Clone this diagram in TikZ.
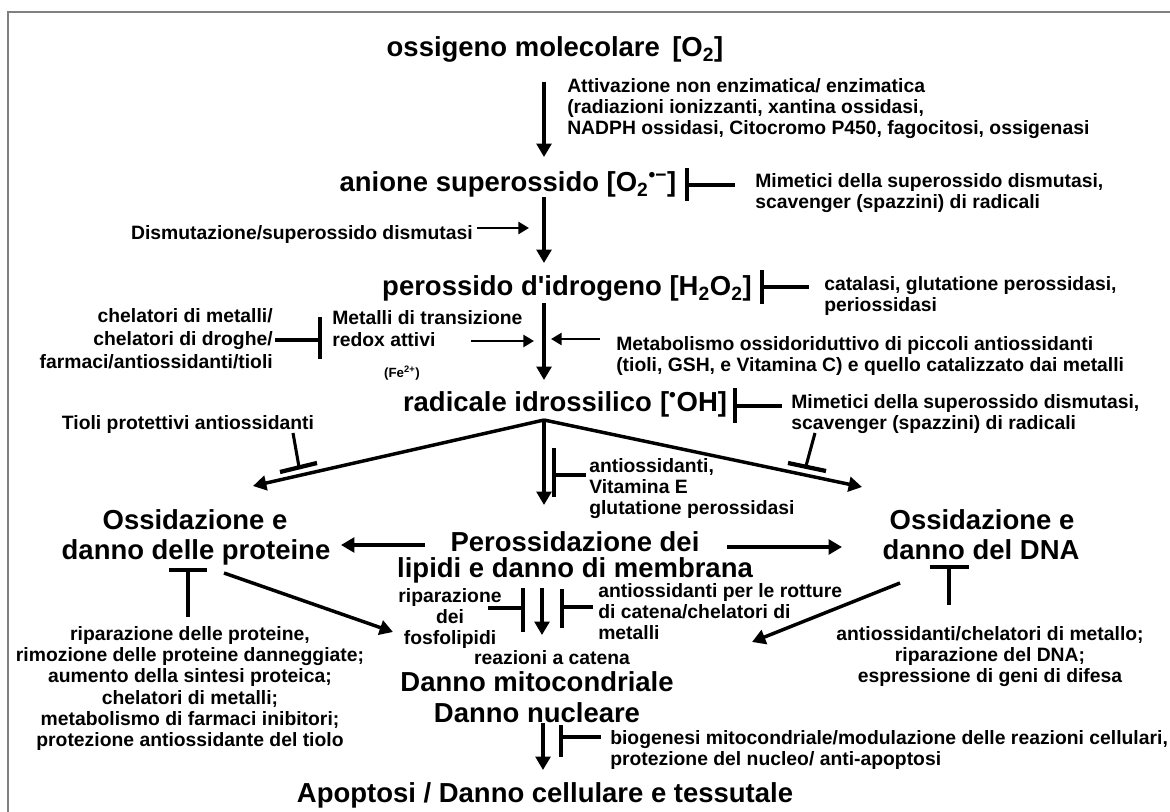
\documentclass[tikz,border=0pt]{standalone}
\usepackage{fontspec}
\setmainfont{Liberation Sans}[Ligatures=TeXOff]
\usetikzlibrary{arrows.meta}
\begin{document}
\begin{tikzpicture}[x=0.75pt,y=-0.75pt,
  big/.style={font=\fontsize{20.6}{24}\selectfont\bfseries, inner sep=0pt, text height=14.8pt, text depth=0pt},
  sm/.style={font=\fontsize{14.5}{16}\selectfont\bfseries, inner sep=0pt, align=left},
  smc/.style={sm, align=center},
  smr/.style={sm, align=right},
  arr/.style={line width=2.6pt, -{Triangle[length=10pt,width=11pt]}},
  harr/.style={line width=2pt, -{Triangle[length=8pt,width=9pt]}},
  ibar/.style={line width=3.2pt},
  istem/.style={line width=2.3pt},
  frame/.style={draw=black!50, line width=1.2pt}
]
\fill[white] (0,0) rectangle (1170,812);
\useasboundingbox (0,0) rectangle (1170,812);
\draw[frame] (8,812) -- (8,12) -- (1170,12);

% ---------- main chain ----------
\node[big] (o2) at (555,47) {ossigeno molecolare\hspace{0.45em}[O\textsubscript{2}]};
\node[big] (sup) at (508,182) {anione superossido [O\textsubscript{2}\textsuperscript{•−}]};
\node[big] (h2o2) at (567,286) {perossido d'idrogeno [H\textsubscript{2}O\textsubscript{2}]};
\node[big] (oh) at (565,402) {radicale idrossilico\hspace{0.3em}[\textsuperscript{•}OH]};
\node[big] (prot1) at (195,520) {Ossidazione e};
\node[big] (prot2) at (196,550) {danno delle proteine};
\node[big] (lip1) at (575,542) {Perossidazione dei};
\node[big] (lip2) at (575,568) {lipidi e danno di membrana};
\node[big] (dna1) at (982,520) {Ossidazione e};
\node[big] (dna2) at (981,550) {danno del DNA};
\node[big] (mito) at (537,682) {Danno mitocondriale};
\node[big] (nucl) at (537,713) {Danno nucleare};
\node[big] (apop) at (545,793) {Apoptosi / Danno cellulare e tessutale};

% ---------- side texts ----------
\node[sm, anchor=north west] (att) at (567,78) {Attivazione non enzimatica/ enzimatica\\(radiazioni ionizzanti, xantina ossidasi,\\NADPH ossidasi, Citocromo P450, fagocitosi, ossigenasi};
\node[sm, anchor=north west] (mim1) at (755,173) {Mimetici della superossido dismutasi,\\scavenger (spazzini) di radicali};
\node[sm, anchor=north east] (dism) at (473,225) {Dismutazione/superossido dismutasi};
\node[sm, anchor=north west] (cat) at (824,276) {catalasi, glutatione perossidasi,\\periossidasi};
\node[smr, anchor=north east, font=\fontsize{14.5}{17.5}\selectfont\bfseries] (chel) at (273,308) {chelatori di metalli/\\chelatori di droghe/\\farmaci/antiossidanti/tioli};
\node[sm, anchor=north west, font=\fontsize{14.5}{17}\selectfont\bfseries] (met) at (332,310) {Metalli di transizione\\redox attivi};
\node[inner sep=0pt, font=\fontsize{10}{12}\selectfont\bfseries] (fe) at (402,373) {(Fe\textsuperscript{2+})};
\node[sm, anchor=north west] (metab) at (616,336) {Metabolismo ossidoriduttivo di piccoli antiossidanti\\(tioli, GSH, e Vitamina C) e quello catalizzato dai metalli};
\node[sm, anchor=north west] (mim2) at (791,394) {Mimetici della superossido dismutasi,\\scavenger (spazzini) di radicali};
\node[sm, anchor=north] (tioli) at (188,415) {Tioli protettivi antiossidanti};
\node[sm, anchor=north west] (vitE) at (589,458) {antiossidanti,\\Vitamina E\\glutatione perossidasi};
\node[smc, anchor=north] (fosf) at (450,588) {riparazione\\dei\\fosfolipidi};
\node[sm, anchor=north west] (rott) at (598,583) {antiossidanti per le rotture\\di catena/chelatori di\\metalli};
\node[sm, anchor=north] (catena) at (552,650) {reazioni a catena};
\node[smc, anchor=north] (riprot) at (190,626) {riparazione delle proteine,\\rimozione delle proteine danneggiate;\\aumento della sintesi proteica;\\chelatori di metalli;\\metabolismo di farmaci inibitori;\\protezione antiossidante del tiolo};
\node[smc, anchor=north] (ripdna) at (990,626) {antiossidanti/chelatori di metallo;\\riparazione del DNA;\\espressione di geni di difesa};
\node[sm, anchor=north west] (bio) at (610,730) {biogenesi mitocondriale/modulazione delle reazioni cellulari,\\protezione del nucleo/ anti-apoptosi};

% ---------- connector end points ----------
\coordinate (a1s) at (544,82);  \coordinate (a1e) at (544,157);
\coordinate (a2s) at (544,197); \coordinate (a2e) at (544,263);
\coordinate (a3s) at (544,303); \coordinate (a3e) at (544,380);
\coordinate (dms) at (477,228); \coordinate (dme) at (529,228);
\coordinate (mts) at (471,341); \coordinate (mte) at (534,341);
\coordinate (mbs) at (600,339); \coordinate (mbe) at (551,339);
\coordinate (fork) at (544,420);
\coordinate (fl) at (253,486); \coordinate (fm) at (544,505); \coordinate (fr) at (862,487);
\coordinate (pls) at (425,545); \coordinate (ple) at (341,545);
\coordinate (prs) at (727,547); \coordinate (pre) at (842,547);
\coordinate (pas) at (224,573); \coordinate (pae) at (393,632);
\coordinate (das) at (900,583); \coordinate (dae) at (752,642);
\coordinate (lds) at (542,588); \coordinate (lde) at (542,635);
\coordinate (fns) at (543,723); \coordinate (fne) at (543,770);

% ---------- arrows ----------
\draw[arr] (a1s) -- (a1e);
\draw[arr] (a2s) -- (a2e);
\draw[arr] (a3s) -- (a3e);
\draw[harr] (dms) -- (dme);
\draw[harr] (mts) -- (mte);
\draw[harr] (mbs) -- (mbe);
\draw[arr] (fork) -- (fl);
\draw[arr] (fork) -- (fm);
\draw[arr] (fork) -- (fr);
\draw[arr] (pls) -- (ple);
\draw[arr] (prs) -- (pre);
\draw[arr] (pas) -- (pae);
\draw[arr] (das) -- (dae);
\draw[arr] (lds) -- (lde);
\draw[arr] (fns) -- (fne);

% ---------- inhibitions ----------
\coordinate (i1) at (687,185);
\draw[ibar] (687,168) -- (687,201); \draw[istem] (i1) -- (735,185);
\coordinate (i2) at (762,287);
\draw[ibar] (762,270) -- (762,304); \draw[istem] (i2) -- (809,287);
\coordinate (i3) at (320,340);
\draw[ibar] (320,317) -- (320,359); \draw[istem] (275,340) -- (i3);
\coordinate (i4) at (735,406);
\draw[ibar] (735,388) -- (735,423); \draw[istem] (i4) -- (782,406);
\draw[istem] (293,433) -- (299,467); \draw[ibar] (280,472) -- (317,463);
\draw[istem] (815,433) -- (806,466); \draw[ibar] (788,463) -- (826,471);
\coordinate (i7) at (554,475);
\draw[ibar] (554,448) -- (554,497); \draw[istem] (i7) -- (586,475);
\coordinate (tp) at (188,570);
\draw[ibar] (169,570) -- (207,570); \draw[istem] (tp) -- (188,617);
\coordinate (td) at (949,567);
\draw[ibar] (930,567) -- (969,567); \draw[istem] (td) -- (949,605);
\coordinate (i8) at (523,608);
\draw[istem] (488,608) -- (i8); \draw[ibar] (523,588) -- (523,632);
\coordinate (i9) at (562,607);
\draw[ibar] (562,589) -- (562,628); \draw[istem] (i9) -- (593,607);
\coordinate (i10) at (561,737);
\draw[ibar] (561,725) -- (561,757); \draw[istem] (i10) -- (601,737);
\end{tikzpicture}
\end{document}
